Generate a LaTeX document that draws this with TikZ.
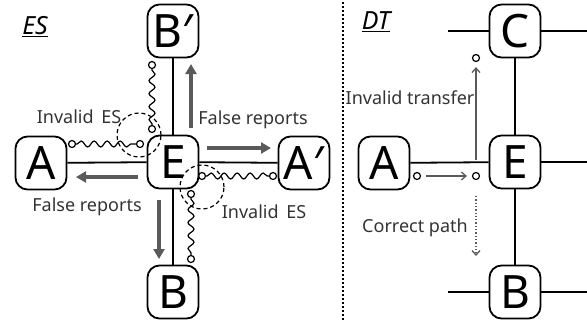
\documentclass[tikz,border=0pt]{standalone}
\usepackage{fontspec}
\setmainfont{Noto Sans}
\usetikzlibrary{decorations.pathmorphing,arrows.meta}
\definecolor{garrow}{RGB}{90,90,90}
\begin{document}
\begin{tikzpicture}[x=1pt,y=-1pt,
  box/.style={draw,line width=1.8pt,rounded corners=12pt,minimum width=51pt,minimum height=53pt,inner sep=0pt,font=\fontsize{46}{46}\selectfont},
  link/.style={line width=1.8pt},
  fat/.style={draw=garrow,line width=3.8pt,-{Triangle[length=10pt,width=11pt]}},
  thinarr/.style={draw=black!65,line width=1.3pt,-{Straight Barb[length=4.5pt,width=8pt]}},
  dot/.style={draw,circle,line width=1.2pt,inner sep=0pt,minimum size=7pt},
  wave/.style={line width=1.2pt,decorate,decoration={snake,amplitude=3pt,segment length=13pt,pre length=1pt,post length=1pt}},
  ring/.style={draw,dash pattern=on 4pt off 3pt,line width=1.2pt,circle,minimum size=44pt,inner sep=0pt},
  lbl/.style={font=\fontsize{18}{19}\selectfont,text=black!80,inner sep=0pt},
  ttl/.style={font=\fontsize{25}{26}\selectfont\itshape,inner sep=0pt}]
\useasboundingbox (0,0) rectangle (587,325);
% ---------- left panel ----------
\node[ttl] (es) at (35,27) {\underline{ES}};
\node[box] (Bp) at (173,31) {B′};
\node[box] (E) at (173,162) {E};
\node[box] (A) at (41,163) {A};
\node[box] (Ap) at (304,163) {A′};
\node[box] (B) at (173,292) {B};
\draw[link] (A) -- (E);
\draw[link] (E) -- (Ap);
\draw[link] (E) -- (Bp);
\draw[link] (E) -- (B);
% gray arrows
\coordinate (u1) at (191,128); \coordinate (u2) at (191,64);
\coordinate (r1) at (207,148); \coordinate (r2) at (271,148);
\coordinate (l1) at (138,177); \coordinate (l2) at (76,177);
\coordinate (d1) at (159,200); \coordinate (d2) at (159,259);
\draw[fat] (u1) -- (u2);
\draw[fat] (r1) -- (r2);
\draw[fat] (l1) -- (l2);
\draw[fat] (d1) -- (d2);
% wavy invalid ES
\node[dot] (h1a) at (72,144) {};
\node[dot] (h1b) at (140,144) {};
\node[dot] (v1a) at (152,65) {};
\node[dot] (v1b) at (152,129) {};
\node[dot] (h2a) at (202,176) {};
\node[dot] (h2b) at (273,176) {};
\node[dot] (v2a) at (191,194) {};
\node[dot] (v2b) at (191,259) {};
\draw[wave] (h1a) -- (h1b);
\draw[wave] (v1a) -- (v1b);
\draw[wave] (h2a) -- (h2b);
\draw[wave] (v2a) -- (v2b);
\node[ring] (c1) at (139,135) {};
\node[ring] (c2) at (202,187) {};
% labels
\node[lbl] (t1) at (253,120) {False reports};
\node[lbl] (t2) at (87,207) {False reports};
\node[lbl] (t3) at (79,117) {Invalid\, ES};
\node[lbl] (t4) at (264,212) {Invalid\, ES};
% divider
\coordinate (s1) at (343,2); \coordinate (s2) at (343,320);
\draw[line width=1.3pt,dash pattern=on 2pt off 2pt] (s1) -- (s2);
% ---------- right panel ----------
\node[ttl] (dt) at (376,22) {\underline{DT}};
\node[box] (C) at (515,31) {C};
\node[box] (E2) at (515,162) {E};
\node[box] (B2) at (515,292) {B};
\node[box] (A2) at (384,163) {A};
\coordinate (cl) at (448,31); \coordinate (cr) at (587,31);
\coordinate (er) at (587,162);
\coordinate (bl) at (448,292); \coordinate (br) at (587,292);
\draw[link] (cl) -- (C);
\draw[link] (C) -- (cr);
\draw[link] (E2) -- (er);
\draw[link] (bl) -- (B2);
\draw[link] (B2) -- (br);
\draw[link] (C) -- (E2);
\draw[link] (E2) -- (B2);
\draw[link] (A2) -- (E2);
\node[dot] (p1) at (417,176) {};
\node[dot] (p2) at (476,176) {};
\node[dot] (p3) at (476,58) {};
\draw[thinarr,shorten <=5pt,shorten >=5pt] (p1) -- (p2);
\coordinate (q1) at (476,160);
\draw[thinarr,shorten >=5pt] (q1) -- (p3);
\coordinate (g1) at (476,196); \coordinate (g2) at (476,256);
\draw[thinarr,dotted] (g1) -- (g2);
\node[lbl] (t5) at (410,98) {Invalid transfer};
\node[lbl] (t6) at (415,228) {Correct path};
\end{tikzpicture}
\end{document}
